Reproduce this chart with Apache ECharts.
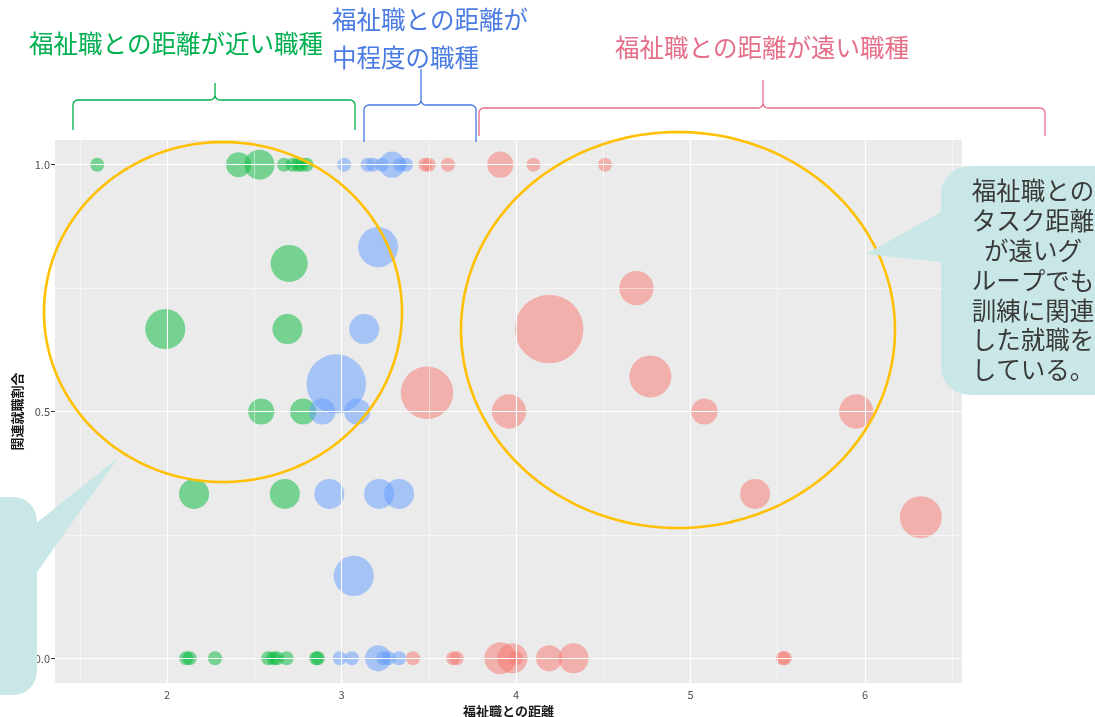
<!DOCTYPE html>
<html><head><meta charset="utf-8">
<script src="https://cdn.jsdelivr.net/npm/echarts@6/dist/echarts.min.js"></script>
<style>html,body{margin:0;padding:0;background:#fff;overflow:hidden}#c{width:1095px;height:717px}</style>
</head><body><div id="c"></div>
<script>
// ---- data ----
const xTickValues = [2, 3, 4, 5, 6];
const yTickValues = [0, 0.5, 1];
const xMinorGrid = [1.5, 2.5, 3.5, 4.5, 5.5, 6.5];
const yMinorGrid = [0.25, 0.75];
const xTitle = '福祉職との距離';
const yTitle = '関連就職割合';
// [距離, 関連就職割合, 人数(相対)]
const nearJobs = [
  [1.60, 1, 1], [2.41, 1, 3.2], [2.53, 1, 4.6], [2.67, 1, 1], [2.72, 1, 1], [2.75, 1, 1], [2.77, 1, 1], [2.80, 1, 1],
  [2.70, 0.8, 7],
  [1.99, 0.667, 8.2], [2.69, 0.667, 4.6],
  [2.54, 0.5, 3.5], [2.78, 0.5, 3.5],
  [2.155, 0.333, 4.6], [2.675, 0.333, 4.6],
  [2.11, 0, 1], [2.13, 0, 1], [2.275, 0, 1], [2.58, 0, 1], [2.61, 0, 1], [2.63, 0, 1], [2.685, 0, 1], [2.855, 0, 1], [2.865, 0, 1]
];
const midJobs = [
  [3.015, 1, 1], [3.15, 1, 1], [3.18, 1, 1], [3.23, 1, 1], [3.29, 1, 3.5], [3.335, 1, 1], [3.37, 1, 1],
  [3.21, 0.833, 8.2],
  [3.13, 0.667, 4.6],
  [2.97, 0.556, 18],
  [2.89, 0.5, 3.5], [3.09, 0.5, 3.5],
  [2.93, 0.333, 4.6], [3.215, 0.333, 4.6], [3.33, 0.333, 4.6],
  [3.07, 0.167, 8.2],
  [2.99, 0, 1], [3.06, 0, 1], [3.21, 0, 3.5], [3.24, 0, 1], [3.27, 0, 1], [3.33, 0, 1]
];
const farJobs = [
  [3.48, 1, 1], [3.50, 1, 1], [3.61, 1, 1], [3.91, 1, 3.5], [4.10, 1, 1], [4.51, 1, 1],
  [4.69, 0.75, 6],
  [4.19, 0.667, 24],
  [4.77, 0.571, 9],
  [3.49, 0.538, 14],
  [3.96, 0.5, 6], [5.08, 0.5, 3.5], [5.95, 0.5, 6],
  [5.37, 0.333, 4.6],
  [6.32, 0.286, 9],
  [3.41, 0, 1], [3.64, 0, 1], [3.66, 0, 1], [3.91, 0, 5.2], [3.98, 0, 4.6], [4.00, 0, 1], [4.19, 0, 3.5], [4.33, 0, 4.6], [5.53, 0, 1], [5.54, 0, 1]
];
const groupLabels = ['福祉職との距離が近い職種', '福祉職との距離が', '中程度の職種', '福祉職との距離が遠い職種'];
const calloutLines = ['福祉職との', 'タスク距離', 'が遠いグ', 'ループでも', '訓練に関連', 'した就職を', 'している。'];

// ---- chart ----
const FONT = "'Noto Sans CJK JP', 'Noto Sans', sans-serif";
const chart = echarts.init(document.getElementById('c'), null, {renderer: 'canvas'});

function bubble(name, data, color) {
  return {
    type: 'scatter', name, data, z: 3,
    symbolSize: v => 14 * Math.sqrt(v[2]),
    itemStyle: {color, opacity: 0.5},
    silent: true, emphasis: {disabled: true}, animation: false
  };
}

function brace(x0, x1, xc, yH, yB, yT, r) {
  const pts = [[x0, yB]];
  const arc = (cx, cy, a0, a1) => {
    for (let i = 0; i <= 8; i++) {
      const a = (a0 + (a1 - a0) * i / 8) * Math.PI / 180;
      pts.push([cx + r * Math.cos(a), cy + r * Math.sin(a)]);
    }
  };
  arc(x0 + r, yH + r, 180, 270);
  arc(xc - r, yH - r, 90, 0);
  pts.push([xc, yT]);
  arc(xc + r, yH - r, 180, 90);
  arc(x1 - r, yH + r, 270, 360);
  pts.push([x1, yB]);
  return pts;
}
function ellipsePts(cx, cy, rx, ry) {
  const p = [];
  for (let i = 0; i < 180; i++) {
    const a = i / 180 * 2 * Math.PI;
    p.push([cx + rx * Math.cos(a), cy + ry * Math.sin(a)]);
  }
  return p;
}

const GREEN = '#00B050', BLUE = '#4A7BE3', RED = '#E56F89';
const LBL = '24.5px ' + FONT;
const graphics = [
  {type: 'polygon', shape: {points: ellipsePts(223, 312, 179, 170)}, style: {fill: 'none', stroke: '#FFC000', lineWidth: 2.6}, z: 50, silent: true},
  {type: 'polygon', shape: {points: ellipsePts(678, 330, 217, 198)}, style: {fill: 'none', stroke: '#FFC000', lineWidth: 2.6}, z: 50, silent: true},
  {type: 'polyline', shape: {points: brace(73, 355, 215, 100, 130, 83, 5)}, style: {stroke: GREEN, lineWidth: 1.3, fill: 'none'}, z: 50, silent: true},
  {type: 'polyline', shape: {points: brace(364, 476, 421, 105, 142, 69, 5)}, style: {stroke: BLUE, lineWidth: 1.3, fill: 'none'}, z: 50, silent: true},
  {type: 'polyline', shape: {points: brace(479, 1045, 763, 108, 136, 80, 5)}, style: {stroke: RED, lineWidth: 1.3, fill: 'none'}, z: 50, silent: true},
  {type: 'text', style: {text: groupLabels[0], x: 176, y: 44, fill: GREEN, font: LBL, textAlign: 'center', textVerticalAlign: 'middle'}, z: 60, silent: true},
  {type: 'text', style: {text: groupLabels[1], x: 332, y: 20, fill: BLUE, font: LBL, textAlign: 'left', textVerticalAlign: 'middle'}, z: 60, silent: true},
  {type: 'text', style: {text: groupLabels[2], x: 332, y: 58, fill: BLUE, font: LBL, textAlign: 'left', textVerticalAlign: 'middle'}, z: 60, silent: true},
  {type: 'text', style: {text: groupLabels[3], x: 762, y: 48, fill: RED, font: LBL, textAlign: 'center', textVerticalAlign: 'middle'}, z: 60, silent: true},
  // right callout
  {type: 'polygon', shape: {points: [[950, 207], [866, 254], [950, 263]]}, style: {fill: '#C9E7E6'}, z: 70, silent: true},
  {type: 'rect', shape: {x: 941, y: 166, width: 220, height: 229, r: 28}, style: {fill: '#C9E7E6'}, z: 70, silent: true},
  // left callout
  {type: 'polygon', shape: {points: [[30, 528], [118, 458], [30, 582]]}, style: {fill: '#C9E7E6'}, z: 70, silent: true},
  {type: 'rect', shape: {x: -120, y: 497, width: 157, height: 198, r: 24}, style: {fill: '#C9E7E6'}, z: 70, silent: true}
];
calloutLines.forEach((t, i) => {
  graphics.push({type: 'text', style: {text: t, x: 1033, y: 191 + i * 29.8, fill: '#3A3A3A', font: LBL, textAlign: 'center', textVerticalAlign: 'middle'}, z: 80, silent: true});
});

const gridLines = [];
xTickValues.forEach(v => gridLines.push({xAxis: v, lineStyle: {width: 1.1}}));
xMinorGrid.forEach(v => gridLines.push({xAxis: v, lineStyle: {width: 0.5}}));
yTickValues.forEach(v => gridLines.push({yAxis: v, lineStyle: {width: 1.1}}));
yMinorGrid.forEach(v => gridLines.push({yAxis: v, lineStyle: {width: 0.5}}));

chart.setOption({
  animation: false,
  textStyle: {fontFamily: FONT},
  grid: {left: 55, right: 133, top: 140, bottom: 34, show: true, backgroundColor: '#EBEBEB', borderWidth: 0,
         containLabel: false, outerBoundsMode: 'none'},
  xAxis: {
    type: 'value', min: 1.358, max: 6.556,
    name: xTitle, nameLocation: 'middle', nameGap: 21,
    nameTextStyle: {fontSize: 13, color: '#1a1a1a', fontWeight: 'bold', fontFamily: FONT},
    axisLine: {show: false},
    axisTick: {show: true, customValues: xTickValues, length: 4, lineStyle: {color: '#333'}},
    axisLabel: {customValues: xTickValues, fontSize: 11, color: '#4D4D4D', margin: 6},
    splitLine: {show: false}
  },
  yAxis: {
    type: 'value', min: -0.05, max: 1.05,
    name: yTitle, nameLocation: 'middle', nameGap: 31,
    nameTextStyle: {fontSize: 13, color: '#1a1a1a', fontWeight: 'bold', fontFamily: FONT},
    axisLine: {show: false},
    axisTick: {show: true, customValues: yTickValues, length: 4, lineStyle: {color: '#333'}},
    axisLabel: {customValues: yTickValues, fontSize: 11, color: '#4D4D4D', margin: 5, formatter: v => v.toFixed(1)},
    splitLine: {show: false}
  },
  series: [
    {type: 'scatter', data: [], z: 1, silent: true,
     markLine: {silent: true, symbol: ['none', 'none'], label: {show: false}, animation: false,
       lineStyle: {color: '#FFFFFF', type: 'solid'}, emphasis: {disabled: true}, data: gridLines}},
    bubble('近い', nearJobs, '#00BA38'),
    bubble('中程度', midJobs, '#619CFF'),
    bubble('遠い', farJobs, '#F8766D')
  ],
  graphic: graphics
});
</script></body></html>
